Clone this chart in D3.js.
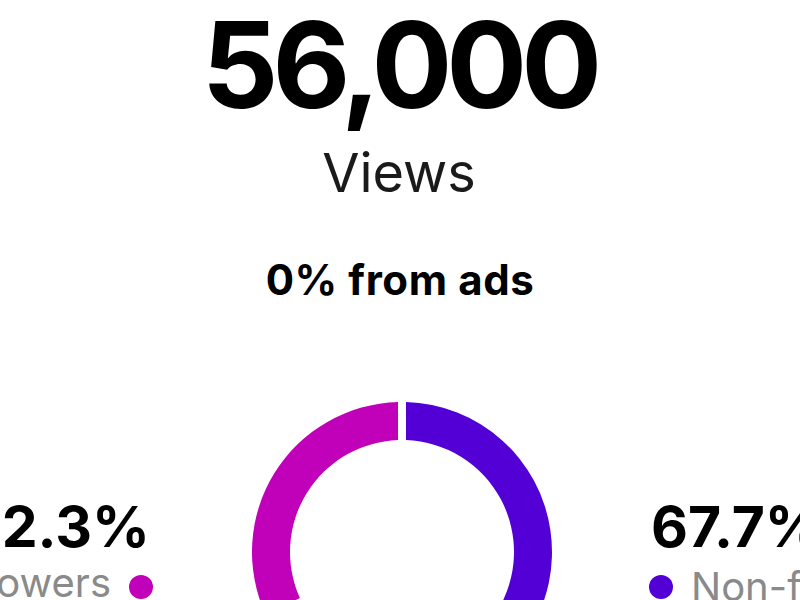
<!DOCTYPE html>
<html><head><meta charset="utf-8">
<script src="https://cdn.jsdelivr.net/npm/d3@7"></script>
<style>
html,body{margin:0;padding:0;background:#fff;overflow:hidden;}
svg{display:block;}
text{font-family:Inter,"Liberation Sans",Arial,sans-serif;}
</style></head>
<body>
<svg id="chart" width="800" height="600"></svg>
<script>
const totalViews = 56000;
const viewsLabel = "Views";
const adsPct = 0;
const categories = ["Non-followers", "Followers"];
const shares = [67.7, 32.3];
const colors = ["#5200d6", "#c100b9"];

const svg = d3.select("#chart");
const W = 800;
const cx = 402, cy = 552, rOuter = 150, rInner = 112;

svg.append("rect").attr("width", W).attr("height", 600).attr("fill", "#fff");

svg.append("text").attr("x", 399).attr("y", 108).attr("text-anchor", "middle")
  .attr("font-size", 120).attr("font-weight", 700).attr("fill", "#000")
  .attr("letter-spacing", -6)
  .text(d3.format(",")(totalViews));

svg.append("text").attr("x", 399).attr("y", 192).attr("text-anchor", "middle")
  .attr("font-size", 54).attr("font-weight", 400).attr("fill", "#1a1a1a")
  .text(viewsLabel);

svg.append("text").attr("x", 400).attr("y", 295).attr("text-anchor", "middle")
  .attr("font-size", 42).attr("font-weight", 700).attr("fill", "#000")
  .attr("letter-spacing", 0.6)
  .text(adsPct + "% from ads");

const pie = d3.pie().sort(null).value(d => d.v);
const data = pie(categories.map((c, i) => ({c, v: shares[i], col: colors[i]})));
const arc = d3.arc().innerRadius(rInner).outerRadius(rOuter)
  .padAngle(8 / rOuter).padRadius(rOuter);

svg.append("g").attr("transform", `translate(${cx},${cy})`)
  .selectAll("path").data(data).join("path")
  .attr("d", arc).attr("fill", d => d.data.col);

const fmt = d => d3.format(".1f")(d) + "%";
// right: Non-followers
svg.append("text").attr("x", 651).attr("y", 547).attr("text-anchor", "start")
  .attr("font-size", 57).attr("font-weight", 700).attr("fill", "#000")
  .text(fmt(shares[0]));
svg.append("circle").attr("cx", 661).attr("cy", 587).attr("r", 12).attr("fill", colors[0]);
svg.append("text").attr("x", 691).attr("y", 601).attr("text-anchor", "start")
  .attr("font-size", 40).attr("fill", "#8a8a8a")
  .text(categories[0]);
// left: Followers
svg.append("text").attr("x", 150).attr("y", 547).attr("text-anchor", "end")
  .attr("font-size", 57).attr("font-weight", 700).attr("fill", "#000")
  .text(fmt(shares[1]));
svg.append("circle").attr("cx", 141).attr("cy", 587).attr("r", 12).attr("fill", colors[1]);
svg.append("text").attr("x", 111).attr("y", 597).attr("text-anchor", "end")
  .attr("font-size", 40).attr("fill", "#8a8a8a")
  .text(categories[1]);
</script>
</body></html>
